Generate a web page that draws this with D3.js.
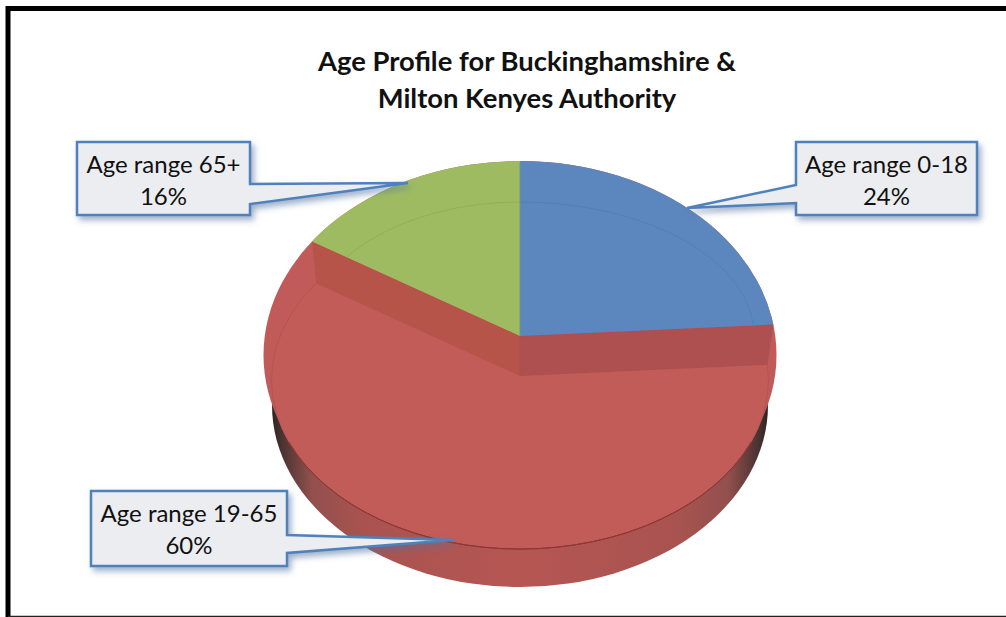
<!doctype html>
<html>

<head>
	<style>
		html, body { margin: 0; padding: 0; background: white; }
		svg { display: block; }
		text { font-family: Lato, "Open Sans", sans-serif; fill: #111; }
	</style>
</head>

<body>
	<div class="figure"></div>

	<script src="https://d3js.org/d3.v7.min.js"></script>
	<script>
		const titleLines = ["Age Profile for Buckinghamshire &", "Milton Kenyes Authority"];
		const categories = ["Age range 0-18", "Age range 19-65", "Age range 65+"];
		const values = [24, 60, 16];
		const colors = ["#5b87be", "#c15c58", "#9fbb62"];

		const svg = d3.select(".figure")
			.append("svg")
			.attr("width", 1006)
			.attr("height", 617);

		const defs = svg.append("defs");

		// side of the disc: dark at both ends
		const wallGrad = defs.append("linearGradient").attr("id", "wallGrad");
		[[0, "#2e2524"], [0.02, "#4a3331"], [0.08, "#92504d"], [0.18, "#a85350"], [0.5, "#b65653"], [0.82, "#a85350"], [0.92, "#92504d"], [0.98, "#4a3331"], [1, "#2e2524"]]
			.forEach(s => wallGrad.append("stop").attr("offset", s[0]).attr("stop-color", s[1]));

		const shadow = defs.append("filter").attr("id", "shadow")
			.attr("x", "-20%").attr("y", "-20%").attr("width", "140%").attr("height", "150%");
		shadow.append("feDropShadow")
			.attr("dx", 3).attr("dy", 4).attr("stdDeviation", 3)
			.attr("flood-color", "#4f6f9f").attr("flood-opacity", 0.55);

		// frame
		svg.append("path").attr("d", "M8 617V8.5H1006").attr("fill", "none").attr("stroke", "black").attr("stroke-width", 5);
		svg.append("path").attr("d", "M8 616.5H1006").attr("fill", "none").attr("stroke", "#222").attr("stroke-width", 1.5);

		// title
		titleLines.forEach((line, i) => {
			svg.append("text")
				.attr("x", 527).attr("y", 71 + i * 37)
				.attr("text-anchor", "middle")
				.attr("font-size", 27.4).attr("font-weight", 700)
				.text(line);
		});

		const pie = d3.pie().sort(null).value(d => d)(values);

		const cx = 520;
		const apexY = 336;    // where blue and green meet
		const apexRedY = 376; // red slice sits lower
		const rim = { cy: 355, rx: 256.5, ry: 194 };
		const face = { cy: 380, rx: 248.5, ry: 169 };
		const skew = 0.716;   // flattening of the slice edges

		const dir = a => [Math.sin(a), -Math.cos(a) * skew];

		// where a slice edge leaves the apex and hits an ellipse
		function hit(apex, a, e) {
			const [dx, dy] = dir(a);
			const oy = apex - e.cy;
			const qa = dx * dx / (e.rx * e.rx) + dy * dy / (e.ry * e.ry);
			const qb = 2 * oy * dy / (e.ry * e.ry);
			const qc = oy * oy / (e.ry * e.ry) - 1;
			const t = (-qb + Math.sqrt(qb * qb - 4 * qa * qc)) / (2 * qa);
			return [cx + t * dx, apex + t * dy];
		}

		// big wedge used as a clip, so the ellipse decides the outer edge
		function clip(id, apex, a0, a1) {
			const arc = d3.arc().innerRadius(0).outerRadius(1000).startAngle(a0).endAngle(a1);
			defs.append("clipPath").attr("id", id)
				.append("path").attr("d", arc())
				.attr("transform", `translate(${cx},${apex}) scale(1,${skew})`);
		}

		const blue = pie[0], red = pie[1], green = pie[2];

		clip("clipBlue", apexY, blue.startAngle, blue.endAngle);
		clip("clipGreen", apexY, green.startAngle, green.endAngle);
		clip("clipRed", apexRedY, red.startAngle, red.endAngle);

		// side wall
		svg.append("ellipse")
			.attr("cx", cx).attr("cy", 405).attr("rx", 248).attr("ry", 182)
			.attr("fill", "url(#wallGrad)");

		// red rim under everything
		svg.append("ellipse")
			.attr("cx", cx).attr("cy", rim.cy).attr("rx", rim.rx).attr("ry", rim.ry)
			.attr("fill", "#c15b5a");

		// cut faces of the red slice
		const cornerL = hit(apexY, red.endAngle, rim), cornerL2 = hit(apexRedY, red.endAngle, face);
		const cornerR = hit(apexY, red.startAngle, rim), cornerR2 = hit(apexRedY, red.startAngle, face);

		svg.append("path")
			.attr("d", d3.line()([cornerL, [cx, apexY], [cx, apexRedY], cornerL2]))
			.attr("fill", "#b7544a").attr("stroke", "#b3504a").attr("stroke-width", 0.6);
		svg.append("path")
			.attr("d", d3.line()([cornerR, [cx, apexY], [cx, apexRedY], cornerR2]))
			.attr("fill", "#ae5050").attr("stroke", "#ad4e4e").attr("stroke-width", 0.6);

		// red top
		svg.append("ellipse")
			.attr("cx", cx).attr("cy", face.cy).attr("rx", face.rx).attr("ry", face.ry)
			.attr("fill", colors[1]).attr("stroke", "#b65452").attr("stroke-width", 1)
			.attr("clip-path", "url(#clipRed)");

		// darker edge where the top meets the side
		const edgeArc = d3.arc().innerRadius(1).outerRadius(1).startAngle(Math.PI * 0.62).endAngle(Math.PI * 1.38);
		svg.append("path")
			.attr("d", edgeArc())
			.attr("transform", `translate(${cx},${face.cy}) scale(${face.rx},${face.ry})`)
			.attr("fill", "none").attr("stroke", "#8c3835").attr("stroke-width", 1)
			.attr("vector-effect", "non-scaling-stroke");

		// blue and green slices
		[[blue, "clipBlue", colors[0], "#4f80b9", 234], [green, "clipGreen", colors[2], "#92ae58", 214]].forEach(s => {
			svg.append("ellipse")
				.attr("cx", cx).attr("cy", rim.cy).attr("rx", rim.rx).attr("ry", rim.ry)
				.attr("fill", s[2])
				.attr("clip-path", `url(#${s[1]})`);
			svg.append("ellipse")
				.attr("cx", cx).attr("cy", 335).attr("rx", s[4]).attr("ry", 133)
				.attr("fill", "none").attr("stroke", s[3]).attr("stroke-width", 1)
				.attr("clip-path", `url(#${s[1]})`);
		});
		svg.append("line")
			.attr("x1", cx).attr("x2", cx).attr("y1", 162).attr("y2", apexY)
			.attr("stroke", "#6f9a7a").attr("stroke-width", 1);

		// callouts
		const boxes = [
			{ i: 2, x: 77, y: 142, w: 173, h: 73, tip: [408, 183], side: "right", p0: 184, p1: 204 },
			{ i: 0, x: 796, y: 142, w: 181, h: 73, tip: [687, 208], side: "left", p0: 185, p1: 203 },
			{ i: 1, x: 91, y: 491, w: 196, h: 75, tip: [453, 540], side: "right", p0: 535, p1: 553 }
		];

		boxes.forEach(b => {
			const xe = b.side === "right" ? b.x + b.w : b.x;
			const outline = b.side === "right"
				? [[b.x, b.y], [xe, b.y], [xe, b.p0], b.tip, [xe, b.p1], [xe, b.y + b.h], [b.x, b.y + b.h]]
				: [[b.x, b.y], [b.x + b.w, b.y], [b.x + b.w, b.y + b.h], [xe, b.y + b.h], [xe, b.p1], b.tip, [xe, b.p0], [xe, b.y]];
			svg.append("path")
				.attr("d", d3.line()(outline) + "Z")
				.attr("fill", "#ebedf0").attr("stroke", "#4f81bd").attr("stroke-width", 2.5)
				.attr("stroke-linejoin", "miter")
				.attr("filter", "url(#shadow)");
			const mid = b.x + b.w / 2;
			svg.append("text").attr("x", mid).attr("y", b.y + 31)
				.attr("text-anchor", "middle").attr("font-size", 24)
				.text(categories[b.i]);
			svg.append("text").attr("x", mid).attr("y", b.y + 63)
				.attr("text-anchor", "middle").attr("font-size", 24)
				.text(values[b.i] + "%");
		});
	</script>

</body>

</html>
